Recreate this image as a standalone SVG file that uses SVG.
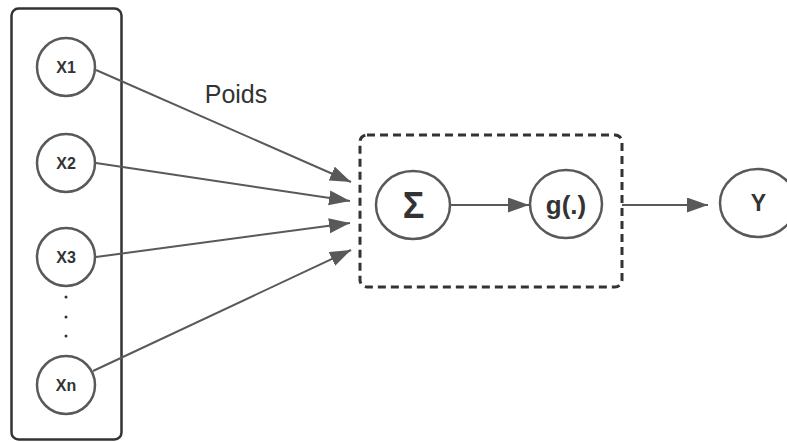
<svg xmlns="http://www.w3.org/2000/svg" width="787" height="442" viewBox="0 0 787 442">
<style>
.node{fill:#fff;stroke:#595959;stroke-width:2.5}
.lbl{font-family:"Liberation Sans",Arial,sans-serif;font-weight:bold;fill:#333;text-anchor:middle}
.conn{stroke:#595959;stroke-width:2;fill:none}
</style>
<defs>
<marker id="ah" markerUnits="userSpaceOnUse" markerWidth="24" markerHeight="16" refX="21" refY="7.5" orient="auto">
<path d="M0,0 L21,7.5 L0,15 Z" fill="#595959"/>
</marker>
</defs>
<rect width="787" height="442" fill="#fff"/>
<g id="inputs-box">
<rect x="11.5" y="8.5" width="110" height="431" rx="7" fill="none" stroke="#333" stroke-width="2.5"/>
</g>
<g id="neuron-box">
<rect x="360" y="135" width="262" height="152" rx="7" fill="none" stroke="#333" stroke-width="3" stroke-dasharray="8,5"/>
</g>
<g id="connectors">
<line class="conn" x1="96" y1="70" x2="351" y2="182" marker-end="url(#ah)"/>
<line class="conn" x1="96" y1="163" x2="350" y2="201" marker-end="url(#ah)"/>
<line class="conn" x1="96" y1="257" x2="350" y2="223" marker-end="url(#ah)"/>
<line class="conn" x1="93" y1="371" x2="351" y2="250" marker-end="url(#ah)"/>
<line class="conn" x1="450" y1="205" x2="529" y2="205" marker-end="url(#ah)"/>
<line class="conn" x1="622" y1="205" x2="708" y2="205" marker-end="url(#ah)"/>
</g>
<text x="236" y="103" font-family="'Liberation Sans',Arial,sans-serif" font-size="25" fill="#333" text-anchor="middle">Poids</text>
<g id="x1"><circle class="node" cx="66" cy="67" r="29"/><text class="lbl" x="66" y="73" font-size="16">X1</text></g>
<g id="x2"><circle class="node" cx="66" cy="163" r="29"/><text class="lbl" x="66" y="169" font-size="16">X2</text></g>
<g id="x3"><circle class="node" cx="66" cy="257" r="29"/><text class="lbl" x="66" y="263" font-size="16">X3</text></g>
<g id="dots" fill="#333"><circle cx="66" cy="297" r="1.5"/><circle cx="66" cy="317" r="1.5"/><circle cx="66" cy="336" r="1.5"/></g>
<g id="xn"><circle class="node" cx="66" cy="385" r="29"/><text class="lbl" x="66" y="391" font-size="16">Xn</text></g>
<g id="sigma"><ellipse class="node" cx="413" cy="205" rx="37" ry="34"/><text class="lbl" x="413.5" y="218" font-size="36">Σ</text></g>
<g id="g"><ellipse class="node" cx="566" cy="204" rx="36" ry="34"/><text class="lbl" x="566" y="214" font-size="26">g(.)</text></g>
<g id="y"><ellipse class="node" cx="758" cy="203" rx="38" ry="34"/><text class="lbl" x="758.5" y="211" font-size="23">Y</text></g>
</svg>
